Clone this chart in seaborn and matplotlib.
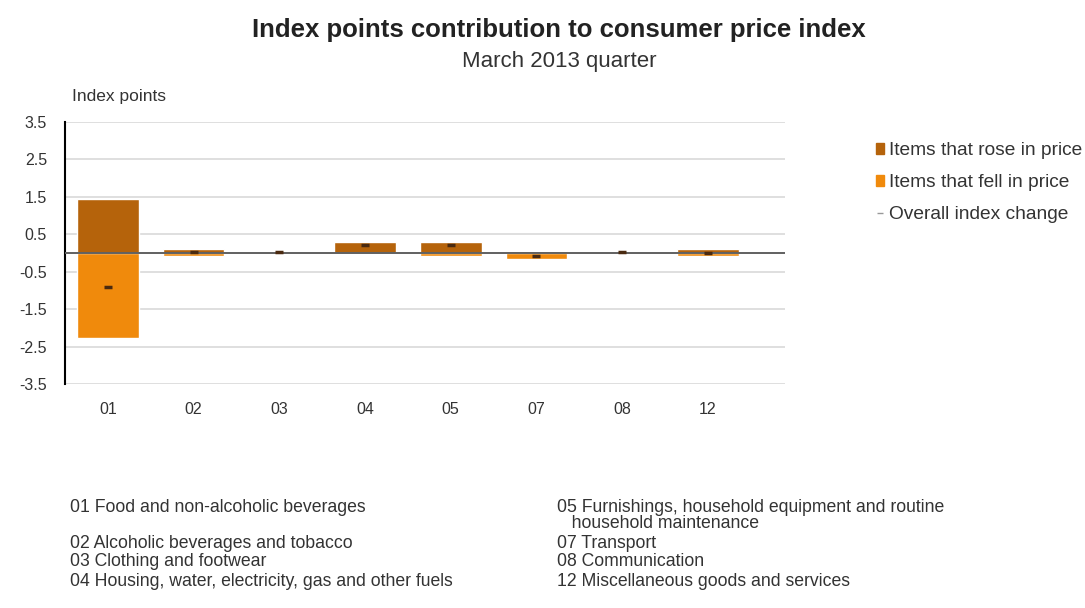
import numpy as np
import pandas as pd
import matplotlib
matplotlib.use('Agg')
import matplotlib.pyplot as plt
import seaborn as sns
from matplotlib.patches import Patch
from matplotlib.lines import Line2D

# Values
groups = ['01', '02', '03', '04', '05', '07', '08', '12']
rose = [1.44, 0.11, 0.0, 0.30, 0.30, 0.05, 0.0, 0.10]
fell = [-2.28, -0.07, 0.0, -0.01, -0.07, -0.15, 0.0, -0.07]
overall = [-0.90, 0.04, 0.02, 0.22, 0.22, -0.07, 0.04, 0.01]

footnotes_left = ['01 Food and non-alcoholic beverages',
                  '02 Alcoholic beverages and tobacco',
                  '03 Clothing and footwear',
                  '04 Housing, water, electricity, gas and other fuels']
footnotes_right = ['05 Furnishings, household equipment and routine',
                   '   household maintenance',
                   '07 Transport',
                   '08 Communication',
                   '12 Miscellaneous goods and services']

df = pd.DataFrame({'group': groups, 'rose': rose, 'fell': fell, 'overall': overall})

sns.set_style('white')
plt.rcParams['font.family'] = ['Liberation Sans', 'DejaVu Sans']

rose_col = '#B5630B'
fell_col = '#F08A0C'
txt = '#333333'

W, H = 1085, 608
fig = plt.figure(figsize=(W / 100, H / 100), dpi=100)
ax = fig.add_axes([65 / W, 1 - 384 / H, 720 / W, 262 / H])

sns.barplot(data=df, x='group', y='rose', color=rose_col, width=0.72,
            saturation=1, ax=ax, zorder=3)
sns.barplot(data=df, x='group', y='fell', color=fell_col, width=0.72,
            saturation=1, ax=ax, zorder=3)
ax.plot(np.arange(len(groups)), df['overall'], linestyle='none', marker='_',
        markersize=6, markeredgewidth=2.5, color='#4a2a10', zorder=5)

ax.set_ylim(-3.5, 3.5)
ax.set_xlim(-0.5, 7.9)
yt = np.arange(-3.5, 3.6, 1.0)
ax.set_yticks(yt)
ax.set_yticklabels([f'{v:.1f}' for v in yt])
ax.grid(axis='y', color='#d9d9d9', linewidth=1.2, zorder=0)
ax.axhline(0, color='#606060', linewidth=1.4, zorder=4)
ax.set_xlabel('')
ax.set_ylabel('')
for s in ['top', 'right', 'bottom']:
    ax.spines[s].set_visible(False)
ax.spines['left'].set_color('black')
ax.spines['left'].set_linewidth(1.5)
ax.tick_params(axis='both', length=0, labelsize=11.5, colors=txt)
ax.tick_params(axis='y', pad=13)
ax.tick_params(axis='x', pad=13)

fig.text(559 / W, 1 - 30 / H, 'Index points contribution to consumer price index',
         ha='center', va='center', fontsize=18.5, fontweight='bold', color='#222222')
fig.text(559 / W, 1 - 61 / H, 'March 2013 quarter', ha='center', va='center',
         fontsize=16, color=txt)
fig.text(72 / W, 1 - 97 / H, 'Index points', ha='left', va='center', fontsize=12.5,
         color=txt)

handles = [Patch(color=rose_col), Patch(color=fell_col),
           Line2D([], [], linestyle='none', marker='_', markersize=5,
                  color='#999999')]
labels = ['Items that rose in price', 'Items that fell in price', 'Overall index change']
fig.legend(handles, labels, loc='upper left', bbox_to_anchor=(876 / W, 1 - 142 / H),
           frameon=False, fontsize=13.8, handlelength=0.4, handleheight=0.5,
           handletextpad=0.3, labelspacing=0.78, labelcolor=txt,
           borderaxespad=0, borderpad=0)

left_y = [507, 543, 562, 581]
right_y = [507, 524, 543, 562, 581]
for t, y in zip(footnotes_left, left_y):
    fig.text(70 / W, 1 - y / H, t, ha='left', va='center', fontsize=12.7, color=txt)
for t, y in zip(footnotes_right, right_y):
    fig.text(557 / W, 1 - y / H, t, ha='left', va='center', fontsize=12.7, color=txt)

fig.savefig('out.png', dpi=100)
